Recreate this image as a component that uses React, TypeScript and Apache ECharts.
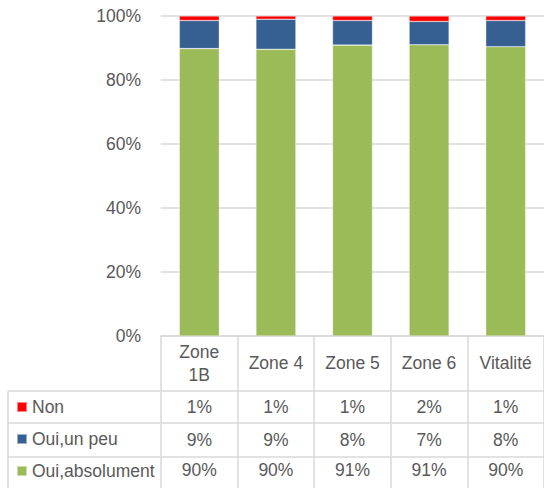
import React, { useEffect, useRef } from "react";
import * as echarts from "echarts";

const categories = ["Zone 1B", "Zone 4", "Zone 5", "Zone 6", "Vitalité"];
const categoryLabels = ["Zone\n1B", "Zone 4", "Zone 5", "Zone 6", "Vitalité"];
const ouiAbsolument = [89.8, 89.6, 90.9, 91.0, 90.4];
const ouiUnPeu = [8.8, 9.4, 7.7, 7.3, 8.2];
const non = [1.4, 1.0, 1.4, 1.7, 1.4];
const yTicks = [0, 20, 40, 60, 80, 100];

const GRID = "#d9d9d9";
const TXT = "#595959";
const FONT = "Arial";
const FS = 17.5;

export default function App() {
  const ref = useRef<HTMLDivElement>(null);
  useEffect(() => {
    if (!ref.current) return;
    const chart = echarts.init(ref.current, null, { renderer: "svg" });
    const rowAxis = (vals: number[], offset: number, margin: number) => ({
      type: "category",
      data: categories,
      position: "bottom",
      offset,
      gridIndex: 0,
      axisLine: { show: true, lineStyle: { color: GRID, width: 1.5 } },
      axisTick: { show: false },
      splitLine: { show: false },
      axisLabel: {
        interval: 0,
        margin,
        verticalAlign: "middle",
        color: TXT,
        fontSize: FS,
        fontFamily: FONT,
        formatter: (_v: string, i: number) => Math.round(vals[i]) + "%",
      },
    });
    const hline = (y: number) => ({
      type: "line",
      shape: { x1: 8, y1: y, x2: 161, y2: y },
      style: { stroke: GRID, lineWidth: 1.5 },
      silent: true,
    });
    chart.setOption({
      animation: false,
      textStyle: { fontFamily: FONT },
      grid: { left: 161, top: 16, width: 389, height: 320, containLabel: false },
      legend: {
        orient: "vertical",
        left: 16,
        top: 397,
        height: 90,
        padding: 0,
        itemWidth: 10,
        itemHeight: 10,
        itemGap: 12,
        icon: "rect",
        selectedMode: false,
        data: ["Non", "Oui,un peu", "Oui,absolument"],
        textStyle: { color: TXT, fontSize: FS, fontFamily: FONT, lineHeight: 20 },
      },
      xAxis: [
        {
          type: "category",
          data: categories,
          position: "bottom",
          axisLine: { show: true, lineStyle: { color: GRID, width: 1.5 } },
          axisTick: { show: true, interval: 0, length: 155, lineStyle: { color: GRID, width: 1.5 } },
          axisLabel: {
            interval: 0,
            margin: 27,
            verticalAlign: "middle",
            align: "center",
            lineHeight: 23,
            color: TXT,
            fontSize: FS,
            fontFamily: FONT,
            formatter: (_v: string, i: number) => categoryLabels[i],
          },
        },
        rowAxis(non, 55, 16),
        rowAxis(ouiUnPeu, 87, 17),
        rowAxis(ouiAbsolument, 121, 13),
      ],
      yAxis: {
        type: "value",
        min: yTicks[0],
        max: yTicks[yTicks.length - 1],
        interval: 20,
        axisLine: { show: false },
        axisTick: { show: false },
        splitLine: { show: true, lineStyle: { color: GRID, width: 1.5 } },
        axisLabel: { formatter: "{value}%", color: TXT, fontSize: FS, fontFamily: FONT, margin: 20 },
      },
      series: [
        {
          name: "Oui,absolument",
          type: "bar",
          stack: "total",
          barWidth: 40,
          data: ouiAbsolument,
          itemStyle: { color: "#9BBB59", borderColor: "rgba(255,255,255,0.5)", borderWidth: 0.6 },
        },
        {
          name: "Oui,un peu",
          type: "bar",
          stack: "total",
          barWidth: 40,
          data: ouiUnPeu,
          itemStyle: { color: "#376092", borderColor: "rgba(255,255,255,0.5)", borderWidth: 0.6 },
        },
        {
          name: "Non",
          type: "bar",
          stack: "total",
          barWidth: 40,
          data: non,
          itemStyle: { color: "#FF0000", borderColor: "rgba(255,255,255,0.5)", borderWidth: 0.6 },
        },
      ],
      graphic: [
        hline(391),
        hline(423),
        hline(457),
        hline(491),
        {
          type: "line",
          shape: { x1: 8, y1: 391, x2: 8, y2: 491 },
          style: { stroke: GRID, lineWidth: 1.5 },
          silent: true,
        },
      ],
    });
    return () => chart.dispose();
  }, []);
  return (
    <div
      ref={ref}
      style={{ position: "absolute", left: 0, top: 0, width: 544, height: 488, background: "#fff" }}
    />
  );
}
